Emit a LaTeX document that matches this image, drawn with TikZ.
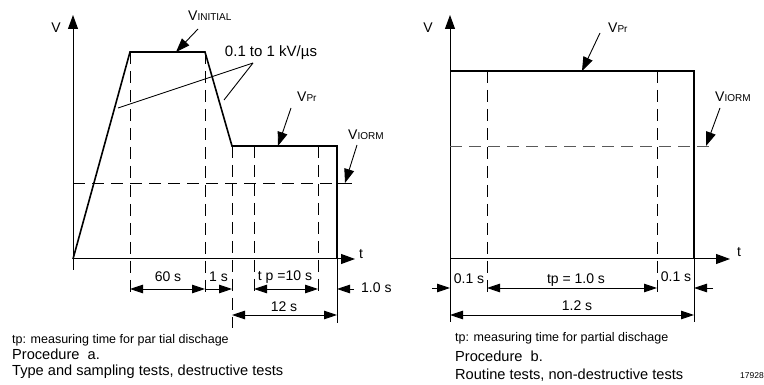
\documentclass[tikz,border=0pt]{standalone}
\usepackage{fontspec}
\setmainfont{Liberation Sans}
\usetikzlibrary{arrows.meta}
\newcommand{\fs}[1]{\fontsize{#1}{#1}\selectfont}
\begin{document}
\begin{tikzpicture}[x=1pt,y=1pt,
  axisline/.style={line width=1pt,-{Triangle[length=14pt,width=10pt]}},
  wave/.style={line width=1.6pt,line join=miter},
  thinl/.style={line width=0.9pt},
  dsh/.style={line width=0.9pt,dash pattern=on 12pt off 7pt},
  dimarrow/.style={line width=0.9pt,{Triangle[length=13pt,width=8.5pt]}-{Triangle[length=13pt,width=8.5pt]}},
  onearrow/.style={line width=0.9pt,-{Triangle[length=13pt,width=8.5pt]}},
  leader/.style={line width=0.9pt,-{Triangle[length=14pt,width=10pt]}},
  lbl/.style={inner sep=0pt,font=\fs{14}},
  dlbl/.style={inner sep=0pt,font=\fs{14}},
  note/.style={inner sep=0pt,anchor=west,font=\fs{12.5}},
  big/.style={inner sep=0pt,anchor=west,font=\fs{14.6}}
]
\useasboundingbox (0,0) rectangle (764,385);

% ---------------- Left panel ----------------
\coordinate (O) at (73,385-259);
\coordinate (Ytop) at (73,385-15);
\coordinate (Ybot) at (73,385-270);
\coordinate (Xend) at (355,385-259);
\coordinate (A) at (130,385-52);
\coordinate (B) at (205,385-52);
\coordinate (C) at (232,385-146);
\coordinate (P1) at (254,385-146);
\coordinate (P2) at (318,385-146);
\coordinate (D) at (337,385-146);
\coordinate (E) at (337,385-259);

\draw[thinl] (Ybot) -- (O);
\draw[axisline] (O) -- (Ytop);
\draw[axisline] (O) -- (Xend);

% dashed verticals
\draw[dsh] (A) -- (130,385-297);
\draw[dsh] (B) -- (205,385-297);
\draw[dsh] (C) -- (232,385-328);
\draw[dsh] (P1) -- (254,385-297);
\draw[dsh] (P2) -- (318,385-297);
\draw[thinl] (E) -- (337,385-323);

% VIORM level
\coordinate (Ia) at (73,385-183);
\coordinate (Ib) at (337,385-183);
\coordinate (Ic) at (352,385-183);
\draw[dsh] (Ia) -- (Ib);
\draw[thinl] (Ib) -- (Ic);

% waveform
\draw[wave] (O) -- (A) -- (B) -- (C) -- (D) -- (E);

% labels
\node[lbl] (Vl) at (56,385-28) {V};
\node[lbl] (tl) at (361,385-254) {t};
\node[lbl,anchor=west] (Vini) at (188,385-16) {V{\fs{10}INITIAL}};
\coordinate (Li1) at (198,385-29);
\coordinate (Li2) at (176,385-52);
\draw[leader] (Li1) -- (Li2);
\node[lbl,font=\fs{15}] (slope) at (271,385-53) {0.1 to 1 kV/µs};
\coordinate (S0) at (253,385-63);
\coordinate (S1) at (118,385-108);
\coordinate (S2) at (224,385-100);
\draw[thinl] (S0) -- (S1);
\draw[thinl] (S0) -- (S2);
\node[lbl,anchor=west] (Vpr) at (297,385-97) {V{\fs{10}Pr}};
\coordinate (Lp1) at (291,385-108);
\coordinate (Lp2) at (278,385-146);
\draw[leader] (Lp1) -- (Lp2);
\node[lbl,anchor=west] (Viorm) at (348,385-135) {V{\fs{10}IORM}};
\coordinate (Lv1) at (357,385-145);
\coordinate (Lv2) at (345,385-183);
\draw[leader] (Lv1) -- (Lv2);

% dimensions
\coordinate (d1a) at (130,385-289);
\coordinate (d1b) at (205,385-289);
\coordinate (d2b) at (232,385-289);
\coordinate (d3a) at (254,385-289);
\coordinate (d3b) at (318,385-289);
\coordinate (d4a) at (232,385-315);
\coordinate (d4b) at (337,385-315);
\coordinate (d5a) at (354,385-289);
\coordinate (d5b) at (337,385-289);
\draw[dimarrow] (d1a) -- (d1b);
\draw[onearrow] (d1b) -- (d2b);
\draw[dimarrow] (d3a) -- (d3b);
\draw[dimarrow] (d4a) -- (d4b);
\draw[onearrow] (d5a) -- (d5b);
\node[dlbl] (l60) at (168,385-277) {60 s};
\node[dlbl] (l1) at (218.5,385-277) {1 s};
\node[dlbl] (ltp) at (285,385-277) {t p =10 s};
\node[dlbl] (l12) at (284,385-307) {12 s};
\node[dlbl,anchor=west] (l10) at (361,385-288) {1.0 s};

% notes
\node[note] (n1) at (12,385-340) {tp: measuring time for par tial dischage};
\node[big] (n2) at (12,385-354) {Procedure \ a.};
\node[big] (n3) at (12,385-372) {Type and sampling tests, destructive tests};

% ---------------- Right panel ----------------
\coordinate (O2) at (450,385-259);
\coordinate (Ytop2) at (450,385-15);
\coordinate (Ybot2) at (450,385-322);
\coordinate (Xend2) at (730,385-259);
\coordinate (R1) at (450,385-71);
\coordinate (R2) at (694,385-71);
\coordinate (R3) at (694,385-259);
\coordinate (Q1) at (487,385-71);
\coordinate (Q2) at (657,385-71);

\draw[thinl] (Ybot2) -- (O2);
\draw[axisline] (O2) -- (Ytop2);
\draw[axisline] (O2) -- (Xend2);
\draw[dsh] (Q1) -- (487,385-295);
\draw[dsh] (Q2) -- (657,385-295);
\draw[thinl] (R3) -- (694,385-322);
\coordinate (H1) at (450,385-146);
\coordinate (H2) at (713,385-146);
\draw[dsh,draw=black!65] (H1) -- (H2);
\draw[wave] (R1) -- (R2) -- (R3);

\node[lbl] (Vr) at (428,385-28) {V};
\node[lbl] (tr) at (739,385-252) {t};
\node[lbl,anchor=west] (Vpr2) at (608,385-28) {V{\fs{10}Pr}};
\coordinate (Rp1) at (600,385-33);
\coordinate (Rp2) at (582,385-71);
\draw[leader] (Rp1) -- (Rp2);
\node[lbl,anchor=west] (Viorm2) at (715,385-97) {V{\fs{10}IORM}};
\coordinate (Rv1) at (720,385-108);
\coordinate (Rv2) at (706,385-146);
\draw[leader] (Rv1) -- (Rv2);

\coordinate (e1a) at (432,385-288);
\coordinate (e1b) at (450,385-288);
\coordinate (e2a) at (487,385-288);
\coordinate (e2b) at (657,385-288);
\coordinate (e3a) at (713,385-288);
\coordinate (e3b) at (694,385-288);
\coordinate (e4a) at (450,385-315);
\coordinate (e4b) at (694,385-315);
\draw[onearrow] (e1a) -- (e1b);
\draw[dimarrow] (e2a) -- (e2b);
\draw[onearrow] (e3a) -- (e3b);
\draw[dimarrow] (e4a) -- (e4b);
\node[dlbl] (r01a) at (469,385-279) {0.1 s};
\node[dlbl] (rtp) at (576,385-280) {tp = 1.0 s};
\node[dlbl] (r01b) at (676,385-277) {0.1 s};
\node[dlbl] (r12) at (577,385-306) {1.2 s};

\node[note] (m1) at (455,385-338) {tp: measuring time for partial dischage};
\node[big] (m2) at (455,385-356) {Procedure \ b.};
\node[big] (m3) at (455,385-375) {Routine tests, non-destructive tests};
\node[inner sep=0pt,anchor=west,font=\fs{8.5}] (code) at (740,385-376) {17928};
\end{tikzpicture}
\end{document}
